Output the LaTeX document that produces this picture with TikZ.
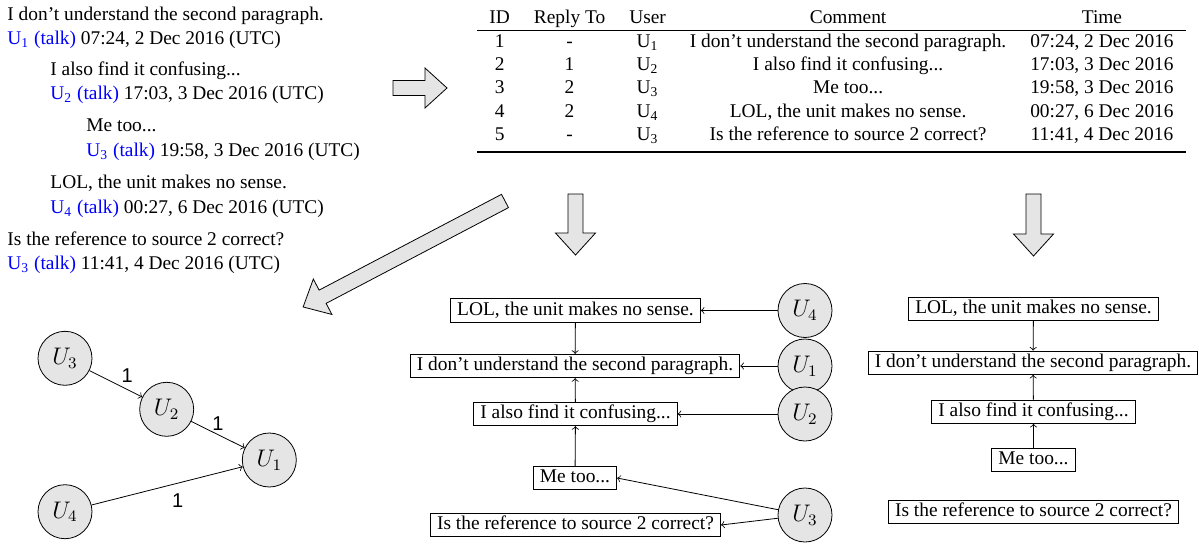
\documentclass[tikz,border=0pt]{standalone}
\usepackage[no-math]{fontspec}
\setmainfont{Liberation Serif}
\newfontfamily\lblfont{Liberation Sans}
\usepackage{booktabs}
\usepackage{tikz}
\usetikzlibrary{positioning,arrows}
\tikzstyle{usr} = [draw,circle,fill=black!10,minimum size=27pt,inner sep=0pt,font=\large]
\tikzstyle{cmt} = [draw,rectangle,text height=6.8pt,text depth=1.9pt,inner ysep=1.5pt]
\tikzstyle{line} = [anchor=base west,inner sep=0pt]
\tikzstyle{reply} = [->]
\tikzstyle{weight} = [font=\lblfont,inner sep=2pt]
\tikzstyle{bigarrow} = [draw,fill=black!10]
\newcommand{\talkby}[1]{{\color{blue}U\textsubscript{#1} (talk)}}
% fat arrow: tail point, angle, length
\newcommand{\fatarrow}[3]{%
  \begin{scope}[shift={#1},rotate=#2]
    \draw[bigarrow] (0,-7.5) -- (#3-22,-7.5) -- (#3-22,-20) -- (#3,0)
      -- (#3-22,20) -- (#3-22,7.5) -- (0,7.5) -- cycle;
  \end{scope}}

\begin{document}
\begin{tikzpicture}[x=0.5pt,y=-0.5pt,font=\fontsize{9.7}{11.6}\selectfont]
	\useasboundingbox (0,0) rectangle (1199,551);

	% talk page
	\node (c1)[line] at (7,20.7) {I don't understand the second paragraph.};
	\node (s1)[line] at (7,45) {\talkby{1} 07:24, 2 Dec 2016 (UTC)};
	\node (c2)[line] at (50,76) {I also find it confusing...};
	\node (s2)[line] at (50,100) {\talkby{2} 17:03, 3 Dec 2016 (UTC)};
	\node (c3)[line] at (86,131.7) {Me too...};
	\node (s3)[line] at (86,156.7) {\talkby{3} 19:58, 3 Dec 2016 (UTC)};
	\node (c4)[line] at (50,188.3) {LOL, the unit makes no sense.};
	\node (s4)[line] at (50,213.3) {\talkby{4} 00:27, 6 Dec 2016 (UTC)};
	\node (c5)[line] at (7,245) {Is the reference to source 2 correct?};
	\node (s5)[line] at (7,269.3) {\talkby{3} 11:41, 4 Dec 2016 (UTC)};

	% table
	\node (tbl)[line] at (477,23.3) {%
		\begin{tabular}[t]{ccccc}
			ID & Reply To & User & Comment & Time\\
			\specialrule{0.5pt}{0pt}{0pt}
			1 & - & U\textsubscript{1} & I don't understand the second paragraph. & 07:24, 2 Dec 2016\\
			2 & 1 & U\textsubscript{2} & I also find it confusing... & 17:03, 3 Dec 2016\\
			3 & 2 & U\textsubscript{3} & Me too... & 19:58, 3 Dec 2016\\
			4 & 2 & U\textsubscript{4} & LOL, the unit makes no sense. & 00:27, 6 Dec 2016\\
			5 & - & U\textsubscript{3} & Is the reference to source 2 correct? & 11:41, 4 Dec 2016\\
			\specialrule{0.8pt}{2pt}{0pt}
		\end{tabular}};

	% big arrows
	\fatarrow{(393,88)}{0}{54}
	\fatarrow{(505,201)}{207.7}{228}
	\fatarrow{(575.5,194)}{-90}{61}
	\fatarrow{(1033.5,194)}{-90}{62}

	% user graph
	\node (u3)[usr] at (65,358.3) {$U_3$};
	\node (u2)[usr] at (166.7,409.3) {$U_2$};
	\node (u1)[usr] at (269.3,460) {$U_1$};
	\node (u4)[usr] at (65,511.7) {$U_4$};

	\draw[reply] (u3) -- node[weight,pos=0.6,above,xshift=3pt] {1} (u2);
	\draw[reply] (u2) -- node[weight,midway,above] {1} (u1);
	\draw[reply] (u4) -- node[weight,pos=0.57,below,yshift=-3pt] {1} (u1);

	% comment graph with users
	\node (mlol)[cmt] at (575.5,310.5) {LOL, the unit makes no sense.};
	\node (mdont)[cmt] at (575,366) {I don't understand the second paragraph.};
	\node (malso)[cmt] at (575.5,414) {I also find it confusing...};
	\node (mtoo)[cmt] at (575,478) {Me too...};
	\node (mref)[cmt] at (575.5,525) {Is the reference to source 2 correct?};

	\node (mu4)[usr] at (805,310.5) {$U_4$};
	\node (mu1)[usr] at (805,366) {$U_1$};
	\node (mu2)[usr] at (805,414) {$U_2$};
	\node (mu3)[usr] at (805,515) {$U_3$};

	\draw[reply] (mlol) -- (mdont);
	\draw[reply] (malso) -- (mdont);
	\draw[reply] (mtoo) -- (malso);
	\draw[reply] (mu4) -- (mlol);
	\draw[reply] (mu1) -- (mdont);
	\draw[reply] (mu2) -- (malso);
	\draw[reply] (mu3) -- (mtoo.east);
	\draw[reply] (mu3) -- (mref.east);

	% comment graph
	\node (rlol)[cmt] at (1033.5,308.7) {LOL, the unit makes no sense.};
	\node (rdont)[cmt] at (1033,362.7) {I don't understand the second paragraph.};
	\node (ralso)[cmt] at (1033.5,411.7) {I also find it confusing...};
	\node (rtoo)[cmt] at (1033.5,460) {Me too...};
	\node (rref)[cmt] at (1033.5,511.7) {Is the reference to source 2 correct?};

	\draw[reply] (rlol) -- (rdont);
	\draw[reply] (ralso) -- (rdont);
	\draw[reply] (rtoo) -- (ralso);
\end{tikzpicture}
\end{document}
